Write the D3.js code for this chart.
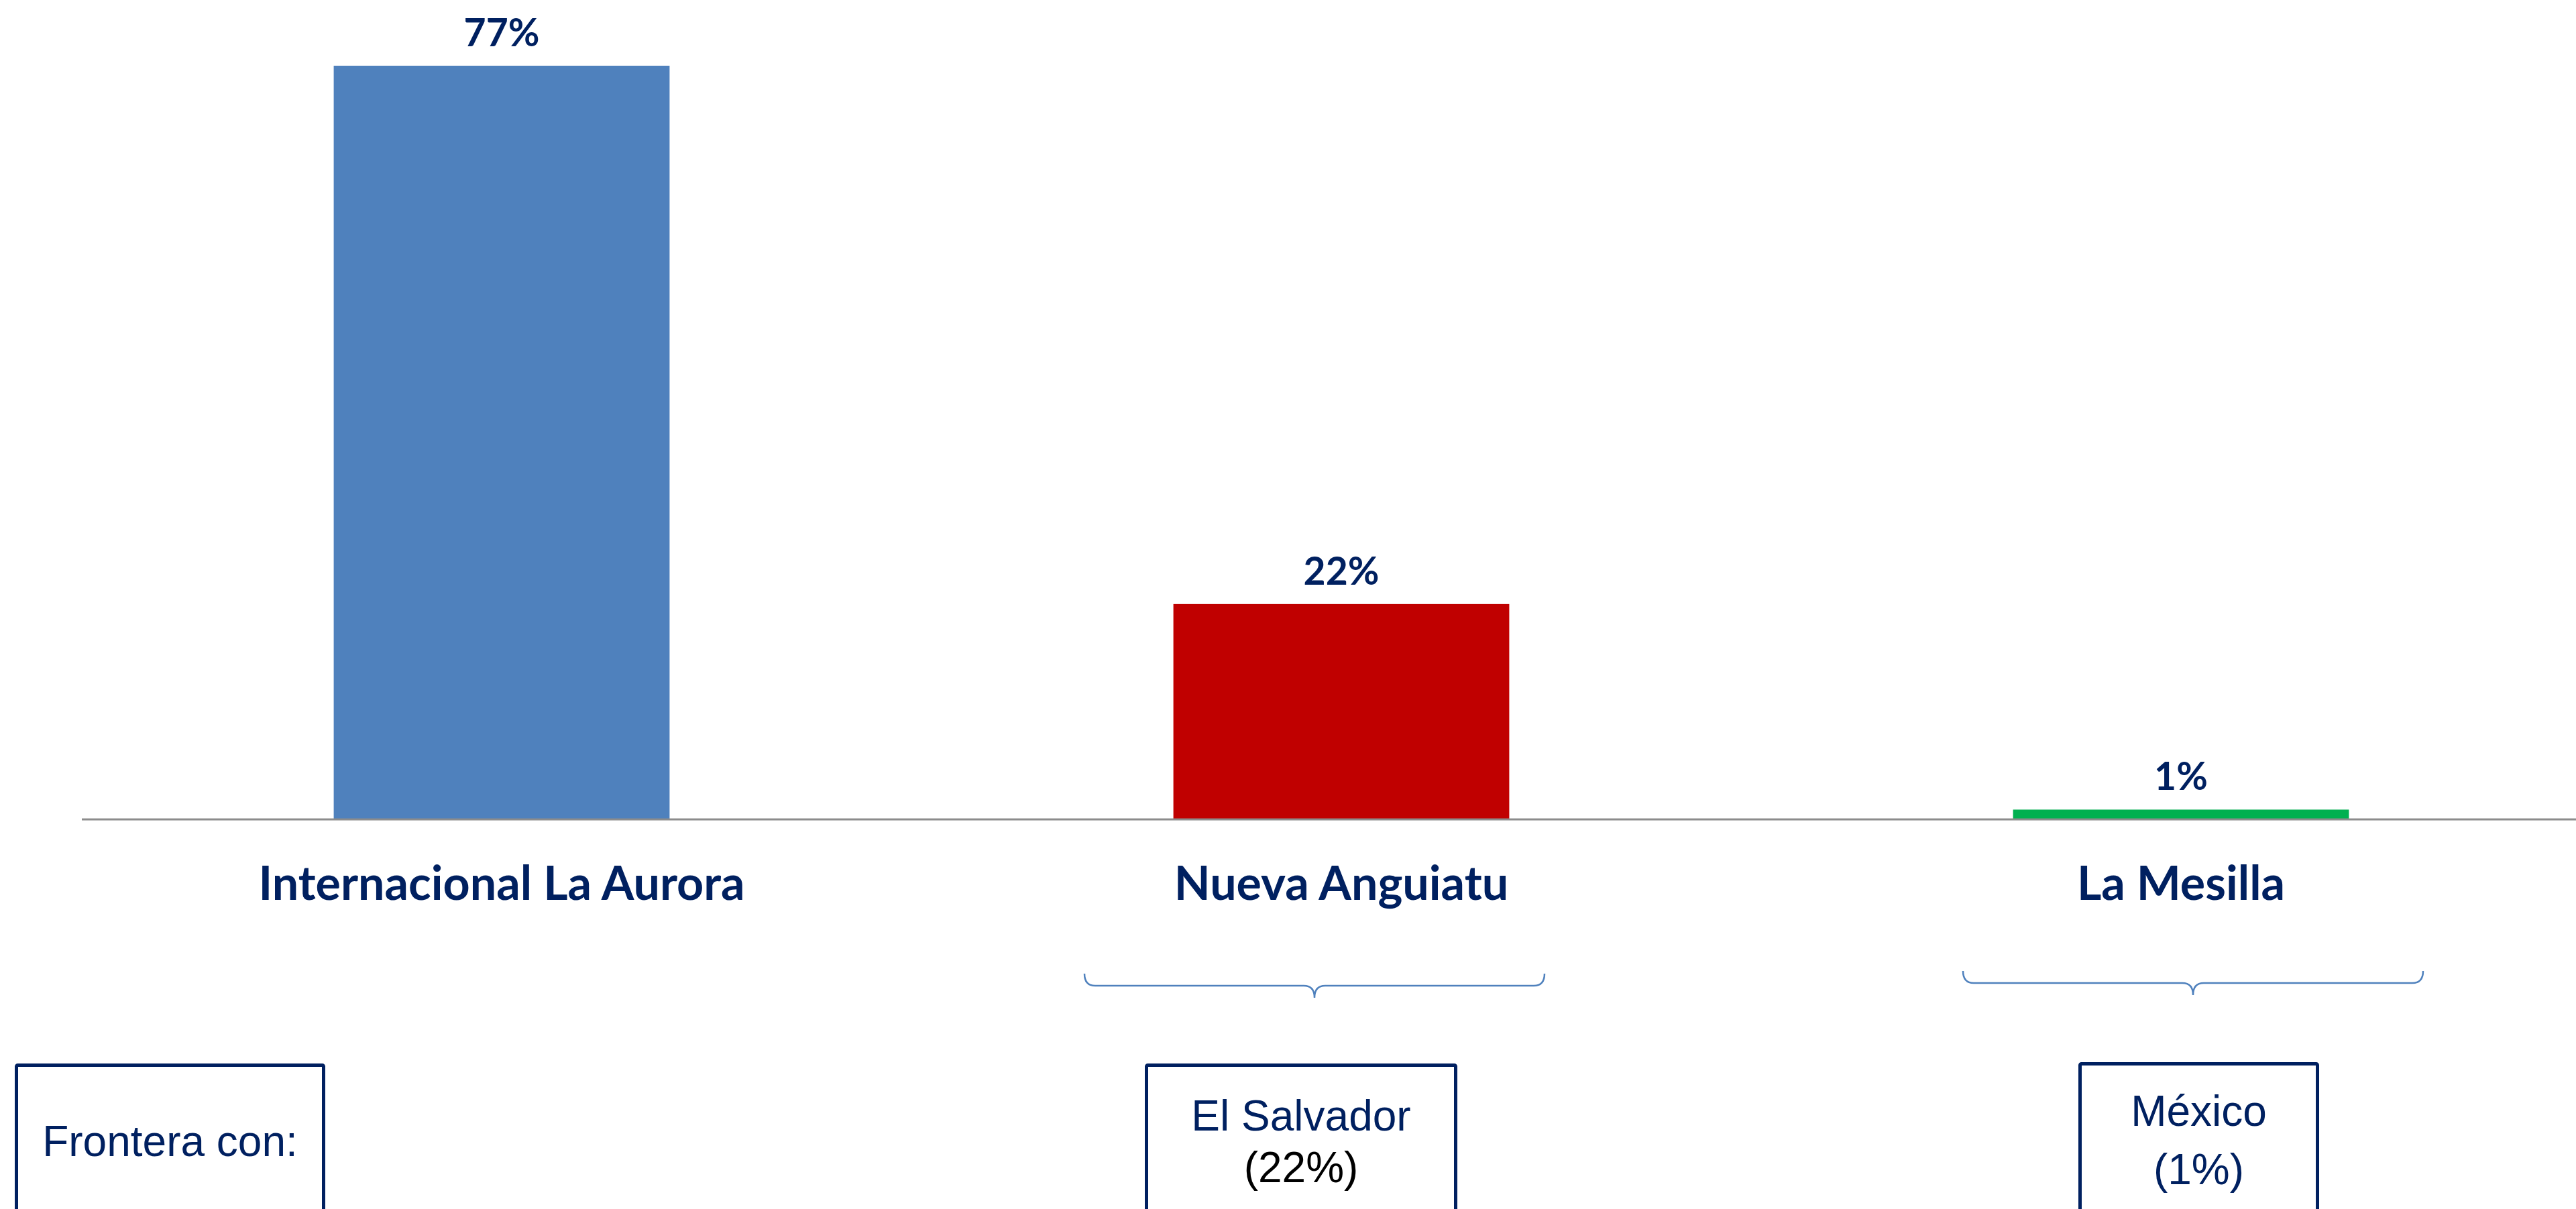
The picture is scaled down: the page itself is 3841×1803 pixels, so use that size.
<!DOCTYPE html>
<html>
<head>
<meta charset="utf-8">
<script src="https://cdn.jsdelivr.net/npm/d3@7"></script>
<style>
	body { margin: 0; background: #fff; }
	svg { display: block; }
</style>
</head>
<body>
<div class="svg-container"></div>
<script>
// chart data
var categories = ["Internacional La Aurora", "Nueva Anguiatu", "La Mesilla"];
var shares = [77, 22, 1];
var valueLabels = ["77%", "22%", "1%"];
var barColors = ["#4F81BD", "#C00000", "#00B050"];

// border boxes under the chart
var borderTitle = "Frontera con:";
var borderCountries = ["El Salvador", "México"];
var borderShares = ["(22%)", "(1%)"];
var borderOf = [1, 2];   // which category each country box belongs to

var pageWidth = 3841,
	pageHeight = 1803;

var margin = { top: 98, left: 122, baseline: 1222 };

var navy = "#002060";

function plot() {
	var svg = d3.select(".svg-container")
		.append("svg")
		.attr("width", pageWidth)
		.attr("height", pageHeight);

	var xScale = d3.scaleBand()
		.domain(categories)
		.range([margin.left, margin.left + 3 * 1252])
		.paddingInner(0.6)
		.paddingOuter(0.3);

	var yScale = d3.scaleLinear()
		.domain([0, 77])
		.range([margin.baseline, margin.top]);

	drawBars(svg, xScale, yScale);
	drawAxis(svg, xScale);
	drawBorders(svg, xScale);
}

function drawBars(svg, x, y) {
	svg.selectAll(".bar").data(shares)
		.enter()
		.append("rect")
		.attr("class", "bar")
		.attr("x", function(d, i) { return x(categories[i]); })
		.attr("width", x.bandwidth())
		.attr("y", function(d) { return y(d); })
		.attr("height", function(d) { return y(0) - y(d); })
		.attr("fill", function(d, i) { return barColors[i]; });

	svg.selectAll(".value").data(shares)
		.enter()
		.append("text")
		.attr("class", "value")
		.attr("x", function(d, i) { return x(categories[i]) + x.bandwidth() / 2; })
		.attr("y", function(d) { return y(d) - 29; })
		.attr("text-anchor", "middle")
		.attr("font-family", "Lato")
		.attr("font-weight", "bold")
		.attr("font-size", 57)
		.attr("fill", navy)
		.text(function(d, i) { return valueLabels[i]; });
}

function drawAxis(svg, x) {
	var xAxis = d3.axisBottom(x).tickSize(0).tickPadding(0);

	var g = svg.append("g")
		.attr("transform", "translate(0," + margin.baseline + ")")
		.call(xAxis);

	g.select(".domain")
		.attr("d", "M" + margin.left + ",0H" + pageWidth)
		.attr("stroke", "#8c8c8c")
		.attr("stroke-width", 3);

	g.selectAll(".tick text")
		.attr("y", 120)
		.attr("dy", 0)
		.attr("font-family", "Lato")
		.attr("font-weight", "bold")
		.attr("font-size", 70)
		.attr("fill", navy);
}

function brace(cx, x0, x1, yTop) {
	// upward-opening curly brace with a small tip in the middle
	var r = 16, lineY = yTop + 18, tipY = yTop + 36;
	return "M" + x0 + "," + yTop +
		"Q" + x0 + "," + lineY + " " + (x0 + r) + "," + lineY +
		"H" + (cx - r) +
		"Q" + cx + "," + lineY + " " + cx + "," + tipY +
		"Q" + cx + "," + lineY + " " + (cx + r) + "," + lineY +
		"H" + (x1 - r) +
		"Q" + x1 + "," + lineY + " " + x1 + "," + yTop;
}

function drawBorders(svg, x) {
	// braces under the border crossings
	var braceSpec = [
		{ cx: 1960, x0: 1617, x1: 2303, top: 1452 },
		{ cx: 3270, x0: 2927, x1: 3613, top: 1448 }
	];
	borderOf.forEach(function(ci, i) {
		var mid = x(categories[ci]) + x.bandwidth() / 2;
		var b = braceSpec[i], shift = b.cx - mid;
		svg.append("path")
			.attr("d", brace(mid + shift, b.x0, b.x1, b.top))
			.attr("fill", "none")
			.attr("stroke", "#4F81BD")
			.attr("stroke-width", 2.5);
	});

	// boxes
	var boxes = [
		{ x0: 22, x1: 485, top: 1586, lines: [borderTitle], colors: [navy], base: [1724] },
		{ x0: 1707, x1: 2173, top: 1586, lines: [borderCountries[0], borderShares[0]], colors: [navy, "#000"], base: [1686, 1763] },
		{ x0: 3099, x1: 3458, top: 1584, lines: [borderCountries[1], borderShares[1]], colors: [navy, navy], base: [1679, 1766] }
	];

	boxes.forEach(function(b) {
		svg.append("rect")
			.attr("x", b.x0 + 2.5)
			.attr("y", b.top + 2.5)
			.attr("width", b.x1 - b.x0 - 5)
			.attr("height", 400)
			.attr("rx", 2)
			.attr("fill", "none")
			.attr("stroke", navy)
			.attr("stroke-width", 5);

		b.lines.forEach(function(t, j) {
			svg.append("text")
				.attr("x", (b.x0 + b.x1) / 2)
				.attr("y", b.base[j])
				.attr("text-anchor", "middle")
				.attr("font-family", "Liberation Sans")
				.attr("font-size", 64)
				.attr("fill", b.colors[j])
				.text(t);
		});
	});
}

plot();
</script>
</body>
</html>
